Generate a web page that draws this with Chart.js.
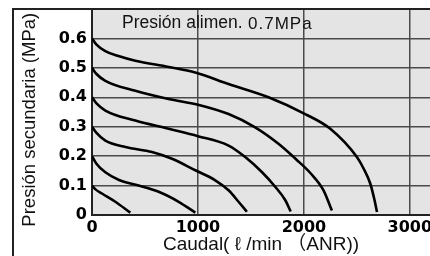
<!DOCTYPE html>
<html>
<head>
<meta charset="utf-8">
<script src="https://cdn.jsdelivr.net/npm/chart.js@4.4.0/dist/chart.umd.min.js"></script>
<style>
  html, body { margin: 0; padding: 0; background: #fff; overflow: hidden; }
  #wrap { width: 430px; height: 256px; }
</style>
</head>
<body>
<div id="wrap"><canvas id="chart"></canvas></div>
<script>
// axis ticks
const xTicks = [0, 1000, 2000, 3000];
const yTicks = [0, 0.1, 0.2, 0.3, 0.4, 0.5, 0.6];

// one curve per set pressure (flow in l/min, pressure in MPa)
const flow01 = [0, 30, 94, 220, 362];
const pres01 = [0.1, 0.088, 0.073, 0.045, 0.008];
const flow02 = [0, 40, 126, 250, 440, 629, 818, 975];
const pres02 = [0.2, 0.175, 0.145, 0.12, 0.1, 0.079, 0.045, 0.008];
const flow03 = [0, 40, 126, 315, 566, 755, 975, 1163, 1289, 1383, 1462];
const pres03 = [0.3, 0.28, 0.253, 0.231, 0.214, 0.191, 0.152, 0.118, 0.084, 0.045, 0.011];
const flow04 = [0, 40, 126, 409, 723, 1000, 1289, 1446, 1603, 1729, 1823, 1875];
const pres04 = [0.4, 0.38, 0.355, 0.321, 0.293, 0.268, 0.236, 0.197, 0.146, 0.096, 0.051, 0.012];
const flow05 = [0, 40, 126, 409, 723, 1000, 1289, 1540, 1760, 1930, 2065, 2185, 2264];
const pres05 = [0.5, 0.48, 0.456, 0.422, 0.394, 0.375, 0.343, 0.298, 0.242, 0.188, 0.141, 0.084, 0.015];
const flow06 = [0, 40, 126, 250, 409, 723, 975, 1289, 1666, 2012, 2249, 2500, 2563, 2626, 2663, 2690];
const pres06 = [0.6, 0.58, 0.557, 0.54, 0.524, 0.503, 0.484, 0.445, 0.40, 0.343, 0.293, 0.197, 0.158, 0.107, 0.056, 0.01];

const curves = [
  [flow01, pres01], [flow02, pres02], [flow03, pres03],
  [flow04, pres04], [flow05, pres05], [flow06, pres06]
];

const frame = {
  id: 'frame',
  beforeDraw(chart) {
    const { ctx, chartArea: a } = chart;
    ctx.save();
    ctx.fillStyle = '#e4e4e4';
    ctx.fillRect(a.left, a.top, a.right - a.left, a.bottom - a.top);
    ctx.restore();
  },
  afterDraw(chart) {
    const { ctx, chartArea: a } = chart;
    ctx.save();
    ctx.strokeStyle = '#222';
    ctx.lineWidth = 2;
    ctx.beginPath();
    ctx.moveTo(13, 256);
    ctx.lineTo(13, a.top);
    ctx.lineTo(430, a.top);
    ctx.stroke();
    ctx.fillStyle = '#111';
    ctx.letterSpacing = '0px';
    ctx.font = '17.5px "Liberation Sans"';
    ctx.fillText('Presión alimen.', 122, 28);
    ctx.font = '17px "Liberation Sans"';
    ctx.letterSpacing = '1px';
    ctx.fillText('0.7MPa', 248, 29);
    ctx.letterSpacing = '0px';
    ctx.restore();
  }
};

new Chart(document.getElementById('chart'), {
  type: 'line',
  data: {
    datasets: curves.map(([f, p]) => ({
      data: f.map((v, i) => ({ x: v, y: p[i] })),
      borderColor: '#000',
      borderWidth: 2.6,
      pointRadius: 0,
      cubicInterpolationMode: 'monotone'
    }))
  },
  options: {
    responsive: true,
    maintainAspectRatio: false,
    animation: false,
    layout: { padding: { top: 9, left: 0, right: 0, bottom: 0 } },
    plugins: { legend: { display: false }, tooltip: { enabled: false } },
    scales: {
      x: {
        type: 'linear',
        min: 0,
        max: 3190,
        afterBuildTicks: s => { s.ticks = xTicks.map(v => ({ value: v })); },
        afterFit: s => { s.height = 41; s.paddingLeft = 0; s.paddingRight = 0; },
        ticks: {
          color: '#000',
          font: { family: 'DejaVu Sans', weight: 'bold', size: 16 },
          padding: 3,
          maxRotation: 0,
          autoSkip: false,
          callback: v => String(v)
        },
        grid: { color: '#4a4a4a', lineWidth: 1.5, drawTicks: false },
        border: { color: '#222', width: 2 },
        title: {
          display: true,
          text: 'Caudal( ℓ /min （ANR))',
          color: '#111',
          font: { family: "'Liberation Sans', 'Noto Sans CJK JP'", size: 19 },
          padding: 0
        }
      },
      y: {
        min: 0,
        max: 0.7,
        afterBuildTicks: s => { s.ticks = yTicks.map(v => ({ value: v })); },
        afterFit: s => { s.width = 92; s.paddingTop = 0; s.paddingBottom = 0; },
        ticks: {
          color: '#000',
          font: { family: 'DejaVu Sans', weight: 'bold', size: 16 },
          padding: 5,
          callback: v => (v === 0 ? '0' : v.toFixed(1))
        },
        grid: { color: '#4a4a4a', lineWidth: 1.5, drawTicks: false },
        border: { color: '#222', width: 2 },
        title: {
          display: true,
          text: 'Presión secundaria (MPa)   ',
          color: '#111',
          font: { family: 'Liberation Sans', size: 18.5 },
          padding: { top: 19, bottom: 0 }
        }
      }
    }
  },
  plugins: [frame]
});
</script>
</body>
</html>
